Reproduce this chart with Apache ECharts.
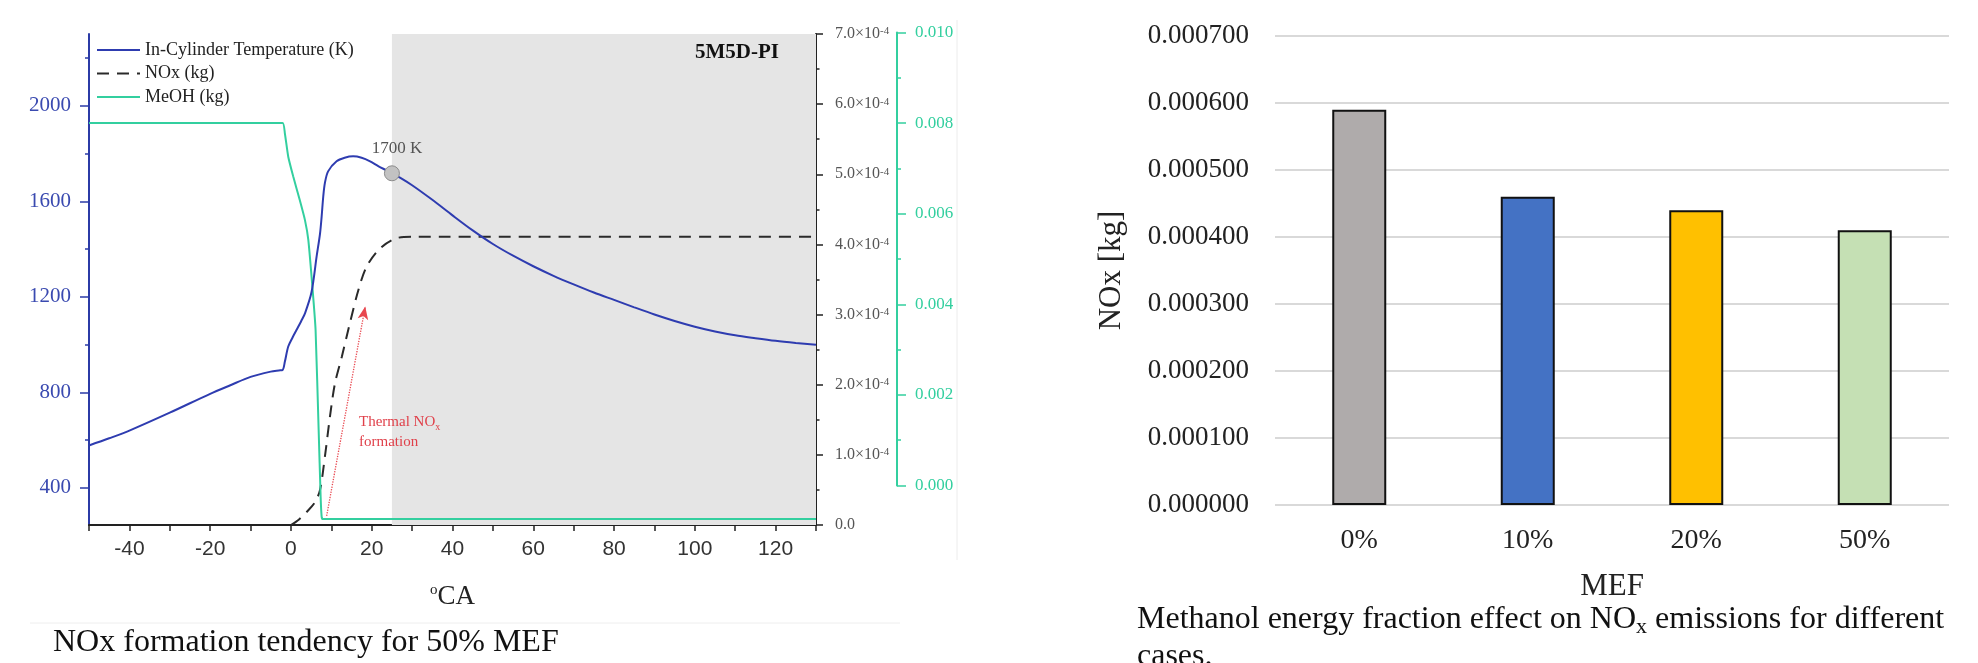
<!DOCTYPE html>
<html>
<head>
<meta charset="utf-8">
<script src="https://cdn.jsdelivr.net/npm/echarts@6.0.0/dist/echarts.min.js"></script>
<style>
html,body{margin:0;padding:0;background:#fff}
#c{width:1978px;height:663px}
</style>
</head>
<body>
<div id="c"></div>
<script>
// left chart: crank angle (deg CA) and the three traces
var caTemp = [-50,-45,-40,-30,-20,-15,-10,-5,-3,-2.06,-1.5,-0.67,0.4,1.4,2.5,3.5,5.1,6.36,7.2,7.6,8,8.4,9.2,11.3,13.3,15.4,17.5,19.6,21.7,23.7,25,27,30,35,40,45,50,55,60,65,70,75,80,85,90,95,100,105,110,115,120,125,130];
var tempK  = [578,608,640,715,794,830,865,887,892,894,929,992,1030,1062,1097,1132,1220,1369,1465,1536,1620,1676,1725,1767,1782,1788,1782,1767,1746,1729,1717,1699,1667,1606,1541,1478,1421,1372,1328,1288,1252,1218,1187,1156,1126,1099,1075,1055,1039,1027,1016,1007,999];

var caNox = [0,2,4.3,6,7.2,8.4,9.65,10.9,12.6,14.6,16.7,18.7,22,26.2,30.3,130];
var noxKg = [0,0.000008,0.000021,0.000033,0.00005,0.000097,0.000154,0.000202,0.00024,0.000288,0.000335,0.000368,0.000394,0.000409,0.000411,0.000411];

var caMeoh = [-50,-2.06,-1.5,-0.67,0.57,2.2,3.47,4.3,5.37,6.1,6.86,7.35,7.6,7.85,130];
var meohKg = [0.008,0.008,0.00779,0.00732,0.00692,0.00644,0.00604,0.00564,0.00463,0.00382,0.0018,0.00045,0.00005,0,0];

var tempTicks = [400,800,1200,1600,2000];
var tempMinorTicks = [600,1000,1400,1800,2200];

// right chart
var mefCats = ['0%','10%','20%','50%'];
var noxByMef = [0.00059,0.00046,0.00044,0.00041];
var barColors = ['#afabab','#4472c4','#ffc000','#c5e0b4'];

var serif = '"Liberation Serif","Times New Roman",serif';
var sans = '"Liberation Sans",Arial,sans-serif';
var blue = '#2e3cb0';
var green = '#33cf9f';

function pairs(xs, ys) {
  return xs.map(function (x, i) { return [x, ys[i]]; });
}

var chart = echarts.init(document.getElementById('c'));

chart.setOption({
  animation: false,
  backgroundColor: '#fff',
  grid: [
    {left: 89, top: 34, width: 727, height: 491},
    {left: 89, top: 32.5, width: 808, height: 453},
    {left: 1275, top: 36, width: 674, height: 469}
  ],
  legend: {
    data: ['In-Cylinder Temperature (K)', 'NOx (kg)', 'MeOH (kg)'],
    orient: 'vertical', left: 91, top: 36,
    itemWidth: 43, itemHeight: 14, itemGap: 5.5,
    itemStyle: {opacity: 0},
    textStyle: {fontFamily: serif, fontSize: 18, color: '#222'}
  },
  xAxis: [
    {
      type: 'value', gridIndex: 0, min: -50, max: 130, interval: 10,
      axisLine: {onZero: false, lineStyle: {color: '#222', width: 2}},
      axisTick: {length: 6, lineStyle: {color: '#222', width: 1.5}},
      axisLabel: {
        margin: 14, fontFamily: sans, fontSize: 21, color: '#333',
        formatter: function (v) { return v % 20 === 0 ? String(v) : ''; }
      },
      splitLine: {show: false},
      name: '{s|o}CA', nameLocation: 'middle', nameGap: 58,
      nameTextStyle: {
        fontFamily: serif, fontSize: 27, color: '#222',
        rich: {s: {fontFamily: serif, fontSize: 15, color: '#222', verticalAlign: 'top'}}
      }
    },
    {type: 'value', gridIndex: 1, show: false, min: 0, max: 1, axisLine: {onZero: false}},
    {
      type: 'category', gridIndex: 2, data: mefCats,
      axisLine: {show: false, onZero: false}, axisTick: {show: false},
      axisLabel: {margin: 22, fontFamily: serif, fontSize: 28, color: '#222'},
      name: 'MEF', nameLocation: 'middle', nameGap: 66,
      nameTextStyle: {fontFamily: serif, fontSize: 31, color: '#222'}
    }
  ],
  yAxis: [
    {
      type: 'value', gridIndex: 0, position: 'left', min: 245, max: 2300,
      axisLine: {show: true, onZero: false, lineStyle: {color: '#2b3ba6', width: 2}},
      axisTick: {show: true, customValues: tempTicks, length: 9, lineStyle: {color: '#2b3ba6', width: 1.5}},
      axisLabel: {
        customValues: tempTicks, margin: 18, fontFamily: serif, fontSize: 21, color: '#3a4ab0',
        formatter: function (v) { return String(v); }
      },
      splitLine: {show: false}
    },
    {
      type: 'value', gridIndex: 0, position: 'left', min: 245, max: 2300,
      axisLine: {show: false, onZero: false},
      axisTick: {show: true, customValues: tempMinorTicks, length: 4, lineStyle: {color: '#2b3ba6', width: 1.5}},
      axisLabel: {show: false},
      splitLine: {show: false}
    },
    {
      type: 'value', gridIndex: 0, position: 'right', min: 0, max: 0.0007, interval: 0.0001,
      axisLine: {show: true, onZero: false, lineStyle: {color: '#222', width: 2}},
      axisTick: {show: true, length: 7, lineStyle: {color: '#222', width: 1.5}},
      minorTick: {show: true, splitNumber: 2, length: 3.5, lineStyle: {color: '#222', width: 1.5}},
      axisLabel: {
        margin: 19, fontFamily: serif, fontSize: 16, color: '#555',
        formatter: function (v) {
          return v === 0 ? '0.0' : (v * 1e4).toFixed(1) + '×10{s|-4}';
        },
        rich: {s: {fontFamily: serif, fontSize: 11, color: '#555', verticalAlign: 'top'}}
      },
      splitLine: {show: false}
    },
    {type: 'value', gridIndex: 0, show: false, min: -0.000121, max: 0.0098, axisLine: {onZero: false}},
    {
      type: 'value', gridIndex: 1, position: 'right', min: 0, max: 0.01, interval: 0.002,
      axisLine: {show: true, onZero: false, lineStyle: {color: green, width: 2}},
      axisTick: {show: true, length: 9, lineStyle: {color: green, width: 1.5}},
      minorTick: {show: true, splitNumber: 2, length: 4, lineStyle: {color: green, width: 1.5}},
      axisLabel: {
        margin: 18, fontFamily: serif, fontSize: 17, color: green,
        formatter: function (v) { return v.toFixed(3); }
      },
      splitLine: {show: false}
    },
    {
      type: 'value', gridIndex: 2, min: 0, max: 0.0007, interval: 0.0001,
      axisLine: {show: false, onZero: false}, axisTick: {show: false},
      axisLabel: {
        margin: 26, fontFamily: serif, fontSize: 27, color: '#222',
        formatter: function (v) { return v.toFixed(6); }
      },
      splitLine: {lineStyle: {color: '#d9d9d9', width: 2}},
      name: 'NOx [kg]', nameLocation: 'middle', nameRotate: 90, nameGap: 148,
      nameTextStyle: {fontFamily: serif, fontSize: 31, color: '#222'}
    }
  ],
  series: [
    {
      name: 'In-Cylinder Temperature (K)', type: 'line',
      xAxisIndex: 0, yAxisIndex: 0,
      data: pairs(caTemp, tempK),
      symbol: 'none', smooth: 0.3, z: 4,
      lineStyle: {color: blue, width: 2}, itemStyle: {color: blue},
      markArea: {
        silent: true,
        itemStyle: {color: '#e5e5e5'},
        data: [[{xAxis: 25}, {xAxis: 130}]]
      },
      markPoint: {
        silent: true,
        data: [{
          coord: [25, 1717], symbol: 'circle', symbolSize: 15,
          itemStyle: {color: '#c2c2c2', borderColor: '#8c8c8c', borderWidth: 1},
          label: {
            show: true, position: 'top', distance: 8, offset: [5, 0],
            formatter: '1700 K', fontFamily: serif, fontSize: 17, color: '#555'
          }
        }]
      },
      markLine: {
        silent: true,
        symbol: ['none', 'arrow'], symbolSize: [8, 13],
        label: {show: false},
        lineStyle: {color: '#e8474f', type: 'dotted', width: 1.3},
        data: [[{coord: [8.84, 283]}, {coord: [18.4, 1160]}]]
      }
    },
    {
      name: 'NOx (kg)', type: 'line',
      xAxisIndex: 0, yAxisIndex: 2,
      data: pairs(caNox, noxKg),
      symbol: 'none', smooth: 0.3, z: 3,
      lineStyle: {color: '#2a2a2a', width: 2, type: [12, 8]}, itemStyle: {color: '#2a2a2a'}
    },
    {
      name: 'MeOH (kg)', type: 'line',
      xAxisIndex: 0, yAxisIndex: 3,
      data: pairs(caMeoh, meohKg),
      symbol: 'none', smooth: 0.15, z: 3,
      lineStyle: {color: green, width: 2}, itemStyle: {color: green}
    },
    {
      name: 'NOx by MEF', type: 'bar',
      xAxisIndex: 2, yAxisIndex: 5,
      data: noxByMef, barWidth: 54,
      itemStyle: {
        borderColor: '#111', borderWidth: 2,
        color: function (p) { return barColors[p.dataIndex]; }
      }
    }
  ],
  graphic: [
    {
      type: 'text', x: 737, y: 53, z: 10,
      style: {text: '5M5D-PI', font: 'bold 21px ' + serif, fill: '#111', textAlign: 'center', textVerticalAlign: 'middle'}
    },
    {
      type: 'text', x: 359, y: 412, z: 10,
      style: {
        text: 'Thermal NO{s|x}\nformation', fontFamily: serif, fontSize: 15, lineHeight: 20,
        fill: '#e0404a', textVerticalAlign: 'top',
        rich: {s: {fontFamily: serif, fontSize: 10, fill: '#e0404a', verticalAlign: 'bottom'}}
      }
    },
    {
      type: 'line', z: 1,
      shape: {x1: 30, y1: 623, x2: 900, y2: 623},
      style: {stroke: '#eeeeee', lineWidth: 1}
    },
    {
      type: 'line', z: 1,
      shape: {x1: 957, y1: 20, x2: 957, y2: 560},
      style: {stroke: '#ececec', lineWidth: 1}
    },
    {
      type: 'text', x: 53, y: 643, z: 10,
      style: {text: 'NOx formation tendency for 50% MEF', fontFamily: serif, fontSize: 32, fill: '#111', textVerticalAlign: 'middle'}
    },
    {
      type: 'text', x: 1137, y: 601, z: 10,
      style: {
        text: 'Methanol energy fraction effect on NO{s|x} emissions for different\ncases.',
        fontFamily: serif, fontSize: 32, lineHeight: 37, fill: '#111', textVerticalAlign: 'top',
        rich: {s: {fontFamily: serif, fontSize: 22, fill: '#111', verticalAlign: 'bottom'}}
      }
    }
  ]
});
</script>
</body>
</html>
